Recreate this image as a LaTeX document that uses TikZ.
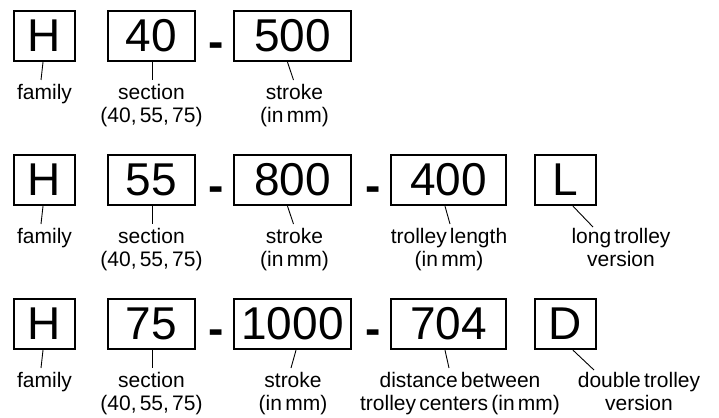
\documentclass[tikz,border=0pt]{standalone}
\usepackage{fontspec}
\setmainfont{Liberation Sans}
\newfontfamily\labfont[WordSpace=0.55]{Liberation Sans}
\usetikzlibrary{calc}
\begin{document}
\begin{tikzpicture}[x=1pt,y=-1pt,
  bx/.style={draw, line width=2.4pt, inner sep=0pt, minimum height=50pt,
             font=\fontsize{46}{46}\selectfont},
  lab/.style={inner sep=0pt, align=center, anchor=north,
              font=\labfont\fontsize{21}{23.5}\selectfont},
  dsh/.style={inner sep=0pt, anchor=base, font=\fontsize{46}{46}\selectfont\bfseries},
  ln/.style={line width=0.9pt}]
\useasboundingbox (0,0) rectangle (719,417);

% ---------- row 1 ----------
\node[bx, minimum width=61pt]  (h1) at (44.5,36)  {H};
\node[bx, minimum width=87pt]  (s1) at (151.5,36) {40};
\node[dsh]                     (d1) at (216.5,58) {-};
\node[bx, minimum width=117pt] (k1) at (292.5,36) {500};

\node[lab] (fam1) at (44.5,84)  {family};
\node[lab] (sec1) at (151.5,84) {section\\(40, 55, 75)};
\node[lab] (str1) at (294.5,84) {stroke\\(in mm)};

\draw[ln] ($(h1.south)+(-1.5,0)$) -- ($(fam1.north)+(-3.5,-4)$);
\draw[ln] ($(s1.south)+(1,0)$)    -- ($(sec1.north)+(1,-4)$);
\draw[ln] ($(k1.south)+(-5,0)$)   -- ($(str1.north)+(-1,-4)$);

% ---------- row 2 ----------
\node[bx, minimum width=61pt]  (h2) at (44.5,180)  {H};
\node[bx, minimum width=87pt]  (s2) at (151.5,180) {55};
\node[dsh]                     (d2) at (216.5,201) {-};
\node[bx, minimum width=117pt] (k2) at (292.5,180) {800};
\node[dsh]                     (e2) at (373,201)   {-};
\node[bx, minimum width=115pt] (t2) at (448.5,180) {400};
\node[bx, minimum width=61pt]  (l2) at (565.5,180) {L};

\node[lab] (fam2) at (44.5,228)  {family};
\node[lab] (sec2) at (151.5,228) {section\\(40, 55, 75)};
\node[lab] (str2) at (294.5,228) {stroke\\(in mm)};
\node[lab] (tl2)  at (449,228)   {trolley length\\(in mm)};
\node[lab] (lt2)  at (621,228)   {long trolley\\version};

\draw[ln] ($(h2.south)+(-1.5,0)$) -- ($(fam2.north)+(-3.5,-4)$);
\draw[ln] ($(s2.south)+(1,0)$)    -- ($(sec2.north)+(1,-4)$);
\draw[ln] ($(k2.south)+(-5,0)$)   -- ($(str2.north)+(-1,-4)$);
\draw[ln] ($(t2.south)+(-3.5,0)$) -- ($(tl2.north)+(1,-4)$);
\draw[ln] ($(l2.south)+(7.5,0)$)  -- ($(lt2.north)+(-28,-1)$);

% ---------- row 3 ----------
\node[bx, minimum width=61pt]  (h3) at (44.5,324)  {H};
\node[bx, minimum width=87pt]  (s3) at (151.5,324) {75};
\node[dsh]                     (d3) at (216.5,344) {-};
\node[bx, minimum width=117pt] (k3) at (292.5,324) {1000};
\node[dsh]                     (e3) at (373,344)   {-};
\node[bx, minimum width=115pt] (t3) at (448.5,324) {704};
\node[bx, minimum width=61pt]  (l3) at (565.5,324) {D};

\node[lab] (fam3) at (44.5,372)  {family};
\node[lab] (sec3) at (151.5,372) {section\\(40, 55, 75)};
\node[lab] (str3) at (293,372)   {stroke\\(in mm)};
\node[lab] (db3)  at (460,372)   {distance between\\trolley centers (in mm)};
\node[lab] (dt3)  at (639,372)   {double trolley\\version};

\draw[ln] ($(h3.south)+(-1.5,0)$) -- ($(fam3.north)+(-3.5,-4)$);
\draw[ln] ($(s3.south)+(1,0)$)    -- ($(sec3.north)+(1,-4)$);
\draw[ln] ($(k3.south)+(3.5,0)$)  -- ($(str3.north)+(-2,-4)$);
\draw[ln] ($(t3.south)+(-3.5,0)$) -- ($(db3.north)+(-11,-4)$);
\draw[ln] ($(l3.south)+(7.5,0)$)  -- ($(dt3.north)+(-45,-2)$);
\end{tikzpicture}
\end{document}
